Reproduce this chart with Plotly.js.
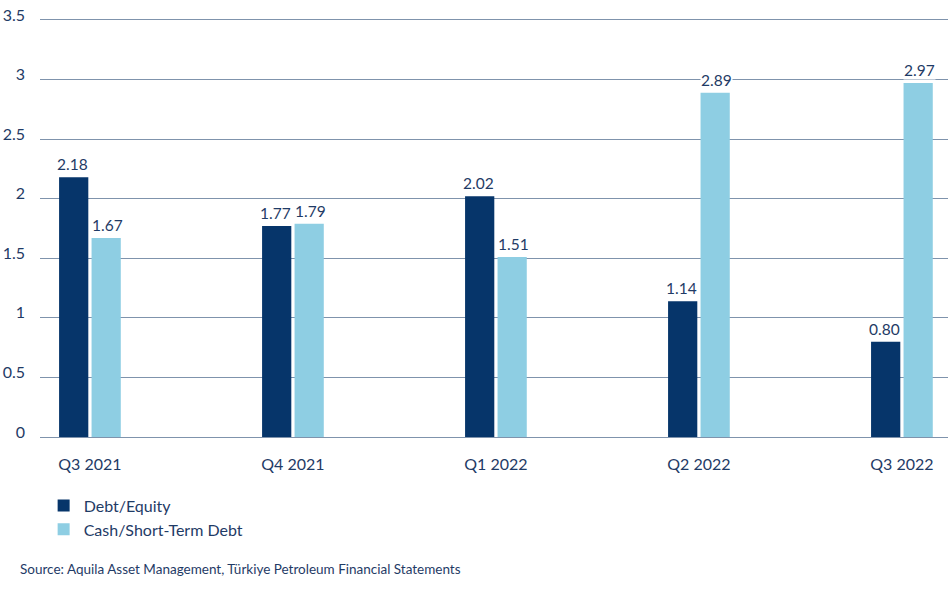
<!DOCTYPE html>
<html>
<head>
<meta charset="utf-8">
<script src="https://cdn.plot.ly/plotly-3.0.1.min.js"></script>
<style>html,body{margin:0;padding:0;background:#fff;}#chart{width:950px;height:591px;}</style>
</head>
<body>
<div id="chart"></div>
<script>
const categories = ["Q3 2021", "Q4 2021", "Q1 2022", "Q2 2022", "Q3 2022"];
const debtEquity = [2.18, 1.77, 2.02, 1.14, 0.80];
const cashShortTermDebt = [1.67, 1.79, 1.51, 2.89, 2.97];
const seriesNames = ["Debt/Equity", "Cash/Short-Term Debt"];
const yTicks = [0, 0.5, 1, 1.5, 2, 2.5, 3, 3.5];
const yTickLabels = ["0", "0.5", "1", "1.5", "2", "2.5", "3", "3.5"];
const sourceText = "Source: Aquila Asset Management, Türkiye Petroleum Financial Statements";

const DARK = "#06356A";
const LIGHT = "#8ECEE3";
const TEXT = "#1F3B66";
const GRID = "#7F93AC";
const FONT = "Lato, 'Noto Sans', sans-serif";

const traces = [
  {type: "bar", name: seriesNames[0], x: categories, y: debtEquity, marker: {color: DARK}, hoverinfo: "skip"},
  {type: "bar", name: seriesNames[1], x: categories, y: cashShortTermDebt, marker: {color: LIGHT}, hoverinfo: "skip"}
];

const annotations = [];
[debtEquity, cashShortTermDebt].forEach((vals, s) => {
  vals.forEach((v, i) => {
    annotations.push({
      x: i + (s === 0 ? -0.085 : 0.085), y: v, xref: "x", yref: "y",
      text: v.toFixed(2), showarrow: false, yanchor: "bottom", yshift: 3,
      bgcolor: "#ffffff", borderpad: 0,
      font: {family: FONT, size: 15.5, color: TEXT}
    });
  });
});
annotations.push({
  x: -0.024, y: -0.312, xref: "paper", yref: "paper", xanchor: "left", yanchor: "middle",
  text: sourceText, showarrow: false, font: {family: FONT, size: 13.5, color: TEXT}
});

const layout = {
  width: 950, height: 591,
  margin: {l: 40, r: 2, t: 14, b: 154},
  paper_bgcolor: "#ffffff", plot_bgcolor: "#ffffff",
  font: {family: FONT, color: TEXT, size: 16},
  barmode: "group", bargap: 0.68, bargroupgap: 0.1,
  showlegend: true,
  legend: {
    orientation: "v", x: 0.004, y: -0.122, xanchor: "left", yanchor: "top",
    font: {family: FONT, size: 16, color: TEXT}, bgcolor: "rgba(0,0,0,0)"
  },
  xaxis: {
    type: "category", range: [-0.246, 4.227], showgrid: false, showline: false, zeroline: false,
    ticks: "", tickfont: {family: FONT, size: 16, color: TEXT}, ticklabelstandoff: 16, fixedrange: true
  },
  yaxis: {
    range: [0, 3.55], tickvals: yTicks, ticktext: yTickLabels, showgrid: true, gridcolor: GRID, gridwidth: 1,
    zeroline: true, zerolinecolor: GRID, zerolinewidth: 1, showline: false, ticks: "",
    tickfont: {family: FONT, size: 16, color: TEXT}, ticklabelstandoff: 14, ticklabelshift: -5, fixedrange: true
  },
  annotations: annotations
};

Plotly.newPlot("chart", traces, layout, {displayModeBar: false, staticPlot: true});
</script>
</body>
</html>
